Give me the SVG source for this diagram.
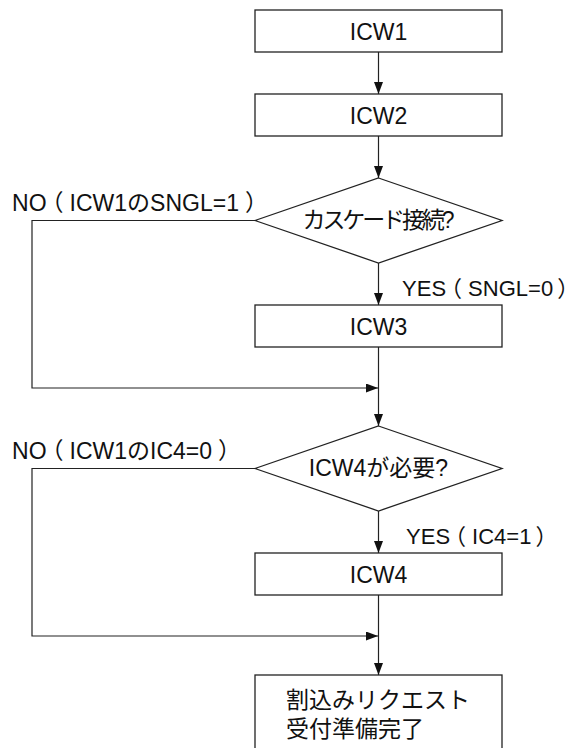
<svg xmlns="http://www.w3.org/2000/svg" width="584" height="748" viewBox="0 0 584 748">
<style>
  .box { fill: #fff; stroke: #222; stroke-width: 1.3; }
  .conn { fill: none; stroke: #222; stroke-width: 1.2; }
  .t { font-family: "Liberation Sans", "Noto Sans CJK JP", sans-serif; font-size: 23px; fill: #111; }
  .s { font-size: 22px; }
  .c { text-anchor: middle; }
</style>
<defs>
  <marker id="arr" markerUnits="userSpaceOnUse" markerWidth="13" markerHeight="10" refX="12" refY="4.5" orient="auto">
    <path d="M0,0 L12,4.5 L0,9 z" fill="#111"/>
  </marker>
</defs>
<rect width="584" height="748" fill="#fff"/>
<g id="connectors">
  <line class="conn" x1="378.5" y1="52" x2="378.5" y2="94" marker-end="url(#arr)"/>
  <line class="conn" x1="378.5" y1="136" x2="378.5" y2="178" marker-end="url(#arr)"/>
  <line class="conn" x1="378.5" y1="263" x2="378.5" y2="305" marker-end="url(#arr)"/>
  <line class="conn" x1="378.5" y1="347" x2="378.5" y2="426" marker-end="url(#arr)"/>
  <line class="conn" x1="378.5" y1="511" x2="378.5" y2="553" marker-end="url(#arr)"/>
  <line class="conn" x1="378.5" y1="595" x2="378.5" y2="675" marker-end="url(#arr)"/>
  <polyline class="conn" points="255,220.5 32,220.5 32,388 378,388" marker-end="url(#arr)"/>
  <polyline class="conn" points="255,468.5 32,468.5 32,636 378,636" marker-end="url(#arr)"/>
  <text class="t" x="12" y="211" dx="0 0 -6 6 0 0 0 0 0 0 0 0 0 0 6">NO（ICW1のSNGL=1）</text>
  <text class="t s" x="402" y="296" dx="0 0 0 -6 6 0 0 0 0 0 4">YES（SNGL=0）</text>
  <text class="t" x="12" y="459" dx="0 0 -6 6 0 0 0 0 0 0 0 0 0 6">NO（ICW1のIC4=0）</text>
  <text class="t s" x="406" y="544" dx="0 0 0 -6 6 0 0 0 0 4">YES（IC4=1）</text>
</g>
<g id="icw1">
  <rect class="box" x="255" y="10" width="247" height="42"/>
  <text class="t c" x="378.5" y="40">ICW1</text>
</g>
<g id="icw2">
  <rect class="box" x="255" y="94" width="247" height="42"/>
  <text class="t c" x="378.5" y="124">ICW2</text>
</g>
<g id="cascade">
  <polygon class="box" points="378.5,178 502,220.5 378.5,263 255,220.5"/>
  <text class="t c" x="378.5" y="228" textLength="152">カスケード接続?</text>
</g>
<g id="icw3">
  <rect class="box" x="255" y="305" width="247" height="42"/>
  <text class="t c" x="378.5" y="335">ICW3</text>
</g>
<g id="need-icw4">
  <polygon class="box" points="378.5,426 502,468.5 378.5,511 255,468.5"/>
  <text class="t c" x="378.5" y="476">ICW4が必要?</text>
</g>
<g id="icw4">
  <rect class="box" x="255" y="553" width="247" height="42"/>
  <text class="t c" x="378.5" y="583">ICW4</text>
</g>
<g id="ready">
  <rect class="box" x="255" y="675" width="247" height="95"/>
  <text class="t" x="286" y="708">割込みリクエスト</text>
  <text class="t" x="286" y="737">受付準備完了</text>
</g>
</svg>
